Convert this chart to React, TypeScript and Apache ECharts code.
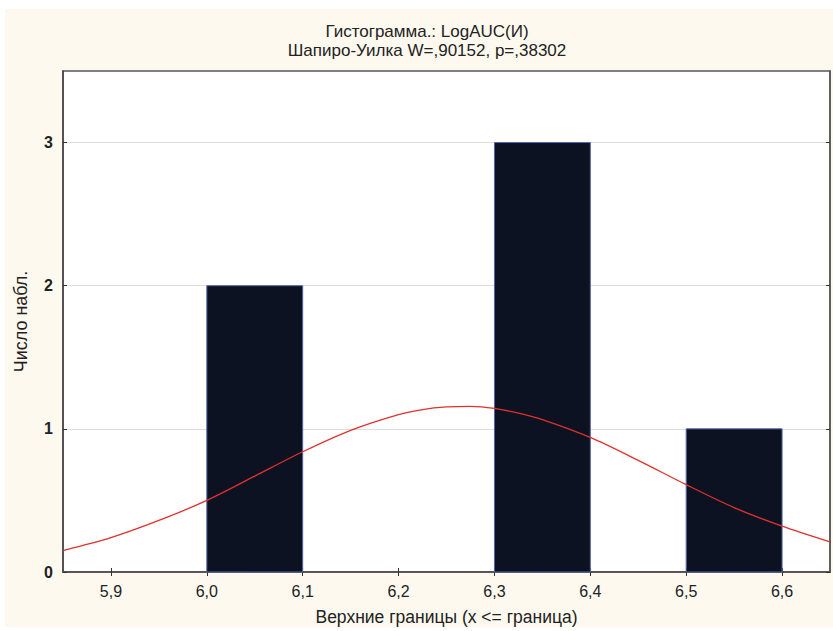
import React, { useEffect, useRef } from "react";
import * as echarts from "echarts";

const binStarts = [5.9, 6.0, 6.1, 6.2, 6.3, 6.4, 6.5];
const binEnds = [6.0, 6.1, 6.2, 6.3, 6.4, 6.5, 6.6];
const counts = [0, 2, 0, 0, 3, 0, 1];

const curveX = [5.85, 5.9, 5.95, 6.0, 6.05, 6.1, 6.15, 6.2, 6.225, 6.25, 6.275, 6.3, 6.325, 6.35, 6.4, 6.45, 6.5, 6.55, 6.6, 6.65];
const curveY = [0.15, 0.24, 0.36, 0.5, 0.67, 0.84, 0.99, 1.1, 1.135, 1.153, 1.157, 1.143, 1.11, 1.065, 0.94, 0.78, 0.61, 0.45, 0.32, 0.21];

const xTicks = [5.9, 6.0, 6.1, 6.2, 6.3, 6.4, 6.5, 6.6];
const yTicks = [0, 1, 2, 3];

const titleLines = ["Гистограмма.: LogAUC(И)", "Шапиро-Уилка W=,90152, p=,38302"];
const xName = "Верхние границы (x <= граница)";
const yName = "Число набл.";

const FONT = "'Liberation Sans', Arial, Helvetica, sans-serif";

export default function App() {
  const ref = useRef<HTMLDivElement>(null);
  useEffect(() => {
    document.body.style.margin = "0";
    const chart = echarts.init(ref.current!, null, { renderer: "svg" });
    const fmtX = (v: number) => v.toFixed(1).replace(".", ",");
    const histData = binStarts.map((s, i) => [s, binEnds[i], counts[i]]);
    chart.setOption({
      animation: false,
      backgroundColor: "#ffffff",
      textStyle: { fontFamily: FONT },
      graphic: [
        {
          type: "rect",
          z: -10,
          silent: true,
          shape: { x: 5, y: 9, width: 828, height: 618 },
          style: { fill: "#fef9ef" },
        },
      ],
      title: {
        text: titleLines.join("\n"),
        left: 422,
        top: 17,
        textAlign: "center",
        textStyle: { fontFamily: FONT, fontSize: 17, fontWeight: "normal", color: "#222", lineHeight: 19 },
      },
      grid: {
        left: 63,
        right: 3,
        top: 71,
        bottom: 54,
        show: true,
        backgroundColor: "#ffffff",
        borderColor: "#555",
        borderWidth: 1.5,
      },
      xAxis: [
        {
          type: "value",
          min: 5.85,
          max: 6.65,
          name: xName,
          nameLocation: "middle",
          nameGap: 36,
          nameTextStyle: { fontFamily: FONT, fontSize: 17.5, color: "#222" },
          axisLine: { show: true, lineStyle: { color: "#444", width: 1.5 } },
          axisTick: { show: true, inside: true, length: 4, customValues: xTicks, lineStyle: { color: "#333" } },
          axisLabel: { customValues: xTicks, formatter: fmtX, margin: 11, fontFamily: FONT, fontSize: 16, color: "#222" },
          splitLine: { show: false },
        },
        {
          type: "value",
          position: "top",
          min: 5.85,
          max: 6.65,
          axisLine: { show: true, lineStyle: { color: "#555", width: 1.5 } },
          axisTick: { show: true, inside: true, length: 4, customValues: xTicks, lineStyle: { color: "#333" } },
          axisLabel: { show: false },
          splitLine: { show: false },
        },
      ],
      yAxis: [
        {
          type: "value",
          min: 0,
          max: 3.5,
          name: yName,
          nameLocation: "middle",
          nameGap: 33,
          nameTextStyle: { fontFamily: FONT, fontSize: 18, color: "#222" },
          axisLine: { show: true, lineStyle: { color: "#444", width: 1.5 } },
          axisTick: { show: true, inside: true, length: 4, customValues: yTicks, lineStyle: { color: "#333" } },
          axisLabel: { customValues: yTicks, margin: 10, fontFamily: FONT, fontSize: 16, fontWeight: "bold", color: "#222" },
          splitLine: { show: true, lineStyle: { color: "#dcdcdc", width: 1 } },
        },
        {
          type: "value",
          position: "right",
          min: 0,
          max: 3.5,
          axisLine: { show: true, lineStyle: { color: "#555", width: 1.5 } },
          axisTick: { show: true, inside: true, length: 4, customValues: yTicks, lineStyle: { color: "#333" } },
          axisLabel: { show: false },
          splitLine: { show: false },
        },
      ],
      series: [
        {
          type: "custom",
          xAxisIndex: 0,
          yAxisIndex: 0,
          data: histData,
          z: 2,
          renderItem: (params: any, api: any) => {
            const s = api.value(0);
            const e = api.value(1);
            const c = api.value(2);
            if (!c) return null;
            const p0 = api.coord([s, 0]);
            const p1 = api.coord([e, c]);
            return {
              type: "rect",
              shape: { x: p0[0], y: p1[1], width: p1[0] - p0[0], height: p0[1] - p1[1] },
              style: { fill: "#0c1221", stroke: "#5566a8", lineWidth: 1 },
            };
          },
        },
        {
          type: "line",
          xAxisIndex: 0,
          yAxisIndex: 0,
          z: 5,
          data: curveX.map((x, i) => [x, curveY[i]]),
          smooth: 0.3,
          showSymbol: false,
          lineStyle: { color: "#e0312c", width: 1.3 },
        },
      ],
    });
    return () => chart.dispose();
  }, []);
  return <div ref={ref} style={{ width: 833, height: 631 }} />;
}
